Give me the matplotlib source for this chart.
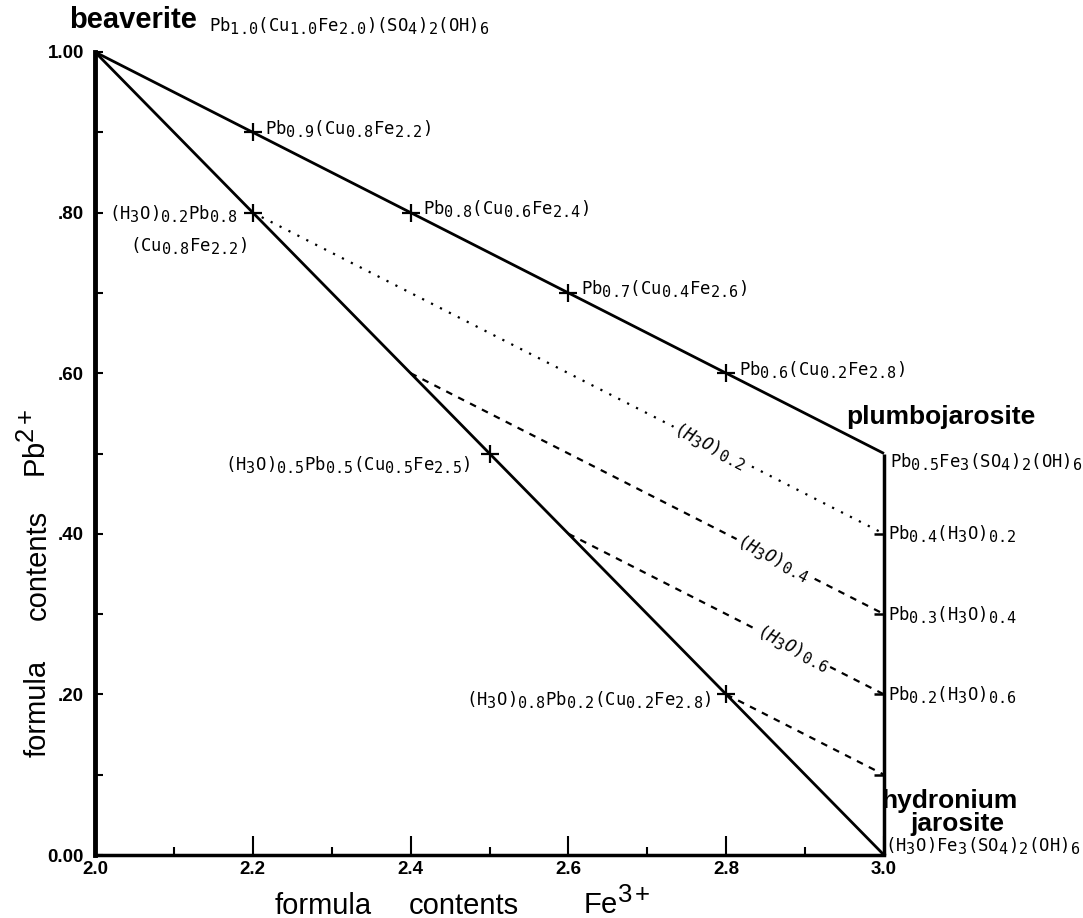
import numpy as np
import matplotlib
matplotlib.use("Agg")
import matplotlib.pyplot as plt
import matplotlib._mathtext as _mt

# subscripts in the reference are almost full size
_mt.SHRINK_FACTOR = 0.88

plt.rcParams['mathtext.fontset'] = 'custom'
plt.rcParams['mathtext.rm'] = 'DejaVu Sans Mono'
plt.rcParams['mathtext.it'] = 'DejaVu Sans Mono:italic'
plt.rcParams['mathtext.bf'] = 'DejaVu Sans Mono:bold'
plt.rcParams['mathtext.tt'] = 'DejaVu Sans Mono'
plt.rcParams['mathtext.sf'] = 'Liberation Sans'

# ---------------- data ----------------
upper_x = [2.0, 3.0]
upper_y = [1.0, 0.5]
diag_x = [2.0, 3.0]
diag_y = [1.0, 0.0]
right_x = [3.0, 3.0]
right_y = [0.0, 0.5]

tie_x0 = [2.2, 2.4, 2.6, 2.8]
tie_y0 = [0.8, 0.6, 0.4, 0.2]
tie_x1 = [3.0, 3.0, 3.0, 3.0]
tie_y1 = [0.4, 0.3, 0.2, 0.1]

up_pts_x = [2.2, 2.4, 2.6, 2.8]
up_pts_y = [0.9, 0.8, 0.7, 0.6]
up_labels = [r'$\mathrm{Pb_{0.9}(Cu_{0.8}Fe_{2.2})}$',
             r'$\mathrm{Pb_{0.8}(Cu_{0.6}Fe_{2.4})}$',
             r'$\mathrm{Pb_{0.7}(Cu_{0.4}Fe_{2.6})}$',
             r'$\mathrm{Pb_{0.6}(Cu_{0.2}Fe_{2.8})}$']

dg_pts_x = [2.2, 2.5, 2.8]
dg_pts_y = [0.8, 0.5, 0.2]

rt_y = [0.4, 0.3, 0.2, 0.1]
rt_labels = [r'$\mathrm{Pb_{0.4}(H_3O)_{0.2}}$',
             r'$\mathrm{Pb_{0.3}(H_3O)_{0.4}}$',
             r'$\mathrm{Pb_{0.2}(H_3O)_{0.6}}$']

tie_lab_x = [2.78, 2.86, 2.885]
tie_lab_idx = [0, 1, 2]
tie_labels = [r'$\mathit{(H_3O)_{0.2}}$', r'$\mathit{(H_3O)_{0.4}}$', r'$\mathit{(H_3O)_{0.6}}$']

yticks = [0.0, 0.2, 0.4, 0.6, 0.8, 1.0]
ytick_labels = ['0.00', '.20', '.40', '.60', '.80', '1.00']
yminor = [0.1, 0.3, 0.5, 0.7, 0.9]
xticks = [2.0, 2.2, 2.4, 2.6, 2.8, 3.0]
xtick_labels = ['2.0', '2.2', '2.4', '2.6', '2.8', '3.0']
xminor = [2.1, 2.3, 2.5, 2.7, 2.9]

# ---------------- figure ----------------
W, H = 1083, 918
fig = plt.figure(figsize=(W/100, H/100), dpi=100)
ax = fig.add_axes([95/W, 63/H, (884-95)/W, (855-52)/H])
ax.set_xlim(2.0, 3.0)
ax.set_ylim(0.0, 1.0)

for s in ['top', 'right']:
    ax.spines[s].set_visible(False)
ax.spines['left'].set_linewidth(3.5)
ax.spines['bottom'].set_linewidth(2.5)

tickfont = dict(fontfamily='Liberation Sans', fontweight='bold', fontsize=13.5)
ax.set_yticks(yticks)
ax.set_yticklabels(ytick_labels, **tickfont)
ax.set_yticks(yminor, minor=True)
ax.set_xticks(xticks)
ax.set_xticklabels(xtick_labels, **tickfont)
ax.set_xticks(xminor, minor=True)
ax.tick_params(axis='y', which='both', direction='in', length=5.5, width=1.5, pad=8)
ax.tick_params(axis='x', which='major', direction='in', length=14, width=1.5, pad=4)
ax.tick_params(axis='x', which='minor', direction='in', length=6, width=1.5)

lw = 2.0
ax.plot(upper_x, upper_y, color='black', lw=lw, clip_on=False, solid_capstyle='butt')
ax.plot(diag_x, diag_y, color='black', lw=lw, clip_on=False, solid_capstyle='butt')
ax.plot(right_x, right_y, color='black', lw=2.5, clip_on=False, solid_capstyle='butt')

styles = [(0, (1, 3.5)), (0, (3, 3)), (0, (3, 3)), (0, (3, 3))]
for i in range(len(tie_x0)):
    ax.plot([tie_x0[i], tie_x1[i]], [tie_y0[i], tie_y1[i]], color='black', lw=1.6,
            linestyle=styles[i], clip_on=False)

ax.plot(up_pts_x, up_pts_y, linestyle='none', marker='+', ms=13, mew=1.6, color='black')
ax.plot(dg_pts_x, dg_pts_y, linestyle='none', marker='+', ms=13, mew=1.6, color='black')
ax.plot([3.0]*len(rt_y), rt_y, linestyle='none', marker=0, ms=7, mew=1.8, color='black',
        clip_on=False)

fs = 12.4
for x, y, t in zip(up_pts_x, up_pts_y, up_labels):
    ax.annotate(t, (x, y), xytext=(9, 3), textcoords='offset points', fontsize=fs,
                ha='left', va='center')

ax.annotate(r'$\mathrm{(H_3O)_{0.2}Pb_{0.8}}$', (dg_pts_x[0], dg_pts_y[0]), xytext=(-11, -1),
            textcoords='offset points', fontsize=fs, ha='right', va='center')
ax.annotate(r'$\mathrm{(Cu_{0.8}Fe_{2.2})}$', (dg_pts_x[0], dg_pts_y[0]), xytext=(-4, -24),
            textcoords='offset points', fontsize=fs, ha='right', va='center')
ax.annotate(r'$\mathrm{(H_3O)_{0.5}Pb_{0.5}(Cu_{0.5}Fe_{2.5})}$', (dg_pts_x[1], dg_pts_y[1]),
            xytext=(-14, -8), textcoords='offset points', fontsize=fs, ha='right', va='center')
ax.annotate(r'$\mathrm{(H_3O)_{0.8}Pb_{0.2}(Cu_{0.2}Fe_{2.8})}$', (dg_pts_x[2], dg_pts_y[2]),
            xytext=(-11, -4), textcoords='offset points', fontsize=fs, ha='right', va='center')

for y, t in zip(rt_y[:3], rt_labels):
    ax.annotate(t, (3.0, y), xytext=(3, 0), textcoords='offset points', fontsize=fs,
                ha='left', va='center', annotation_clip=False)
ax.annotate(r'$\mathrm{Pb_{0.5}Fe_3(SO_4)_2(OH)_6}$', (3.0, 0.5), xytext=(4, -6),
            textcoords='offset points', fontsize=fs, ha='left', va='center', annotation_clip=False)
ax.annotate(r'$\mathrm{(H_3O)Fe_3(SO_4)_2(OH)_6}$', (3.0, 0.0), xytext=(1, 7),
            textcoords='offset points', fontsize=fs, ha='left', va='center', annotation_clip=False)
ax.annotate(r'$\mathrm{Pb_{1.0}(Cu_{1.0}Fe_{2.0})(SO_4)_2(OH)_6}$', (2.0, 1.0), xytext=(82, 19),
            textcoords='offset points', fontsize=fs, ha='left', va='center', annotation_clip=False)

name = dict(fontweight='bold', fontfamily='Liberation Sans', annotation_clip=False,
            textcoords='offset points')
ax.annotate('beaverite', (2.0, 1.0), xytext=(-19, 23), fontsize=21, ha='left', va='center', **name)
ax.annotate('plumbojarosite', (3.0, 0.5), xytext=(-27, 26), fontsize=19, ha='left', va='center', **name)
ax.annotate('hydronium', (3.0, 0.0), xytext=(47, 34), fontsize=19, ha='center', va='baseline', **name)
ax.annotate('jarosite', (3.0, 0.0), xytext=(53, 17), fontsize=19, ha='center', va='baseline', **name)

fig.canvas.draw()
for lx, i, t in zip(tie_lab_x, tie_lab_idx, tie_labels):
    p0 = ax.transData.transform((tie_x0[i], tie_y0[i]))
    p1 = ax.transData.transform((tie_x1[i], tie_y1[i]))
    ang = np.degrees(np.arctan2(p1[1] - p0[1], p1[0] - p0[0]))
    frac = (lx - tie_x0[i]) / (tie_x1[i] - tie_x0[i])
    ly = tie_y0[i] + frac * (tie_y1[i] - tie_y0[i])
    ax.text(lx, ly, t, rotation=ang, rotation_mode='anchor', ha='center', va='center',
            fontsize=fs, bbox=dict(fc='white', ec='none', pad=1))

lab = dict(fontsize=21, fontfamily='Liberation Sans')
fig.text(275/W, 4/H, 'formula', ha='left', va='baseline', **lab)
fig.text(409/W, 4/H, 'contents', ha='left', va='baseline', **lab)
fig.text(583/W, 4/H, r'$\mathsf{Fe^{3+}}$', ha='left', va='baseline', **lab)

fig.text(52/W, (H-757)/H, 'formula', ha='right', va='bottom', rotation=90, **lab)
fig.text(52/W, (H-620)/H, 'contents', ha='right', va='bottom', rotation=90, **lab)
fig.text(52/W, (H-478)/H, r'$\mathsf{Pb^{2+}}$', ha='right', va='bottom', rotation=90, **lab)

fig.savefig('out.png', dpi=100)
